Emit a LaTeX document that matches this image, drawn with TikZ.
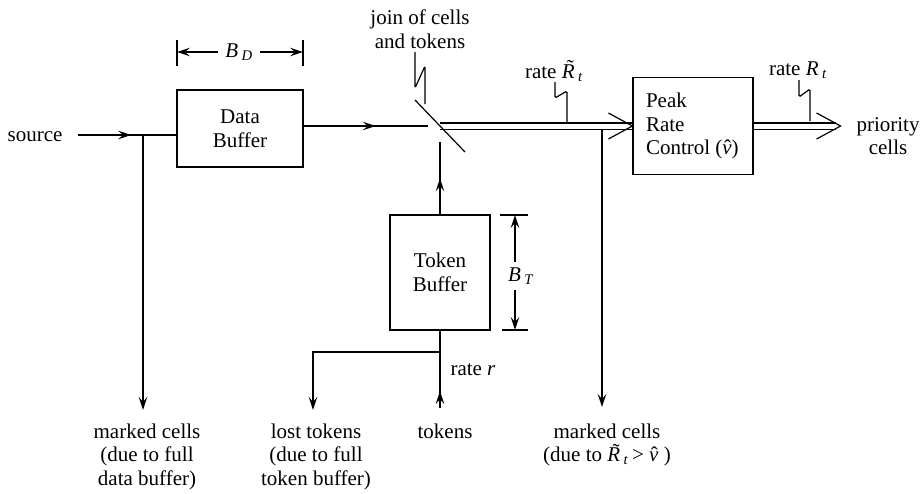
\documentclass[tikz,border=0pt]{standalone}
\usepackage{fontspec}
\setmainfont{Liberation Serif}
\usetikzlibrary{arrows.meta,decorations.markings}

% italic R with tilde and italic v with hat, built from spacing accents
\newcommand\Rtil{\ooalign{\textit{R}\cr\hidewidth\kern0.22em\raisebox{0.16em}{\char"02DC}\hidewidth\cr}}
\newcommand\vhat{\ooalign{\textit{v}\cr\hidewidth\kern0.06em\char"02C6\hidewidth\cr}}

\tikzset{
  box/.style={draw, rectangle, inner sep=0pt, align=center},
  lbl/.style={inner sep=0pt, align=center},
  dbl/.style={double, double distance=5pt, line width=1.3pt},
  midarrow/.style={postaction={decorate},
    decoration={markings, mark=at position #1 with {\arrow{>}}}},
  leader/.style={line width=1.2pt, rounded corners=1.5pt},
}

\begin{document}
\begin{tikzpicture}[x=1pt, y=-1pt, line width=1.2pt,
  font=\fontsize{21}{23.5}\selectfont,
  >={Stealth[length=13pt,width=8.5pt,inset=5pt]}]
\useasboundingbox (0,0) rectangle (924,493);

% --- blocks ---
\node[box, minimum width=126pt, minimum height=77pt] (data) at (240,128.5) {Data\\Buffer};
\node[box, minimum width=100pt, minimum height=115pt] (tok) at (440,272.5) {Token\\Buffer};
\node[box, minimum width=120pt, minimum height=97pt] (peak) at (693,126) {};
\node[lbl, anchor=west, align=left] (peaktxt) at ([xshift=13pt]peak.west) {Peak\\Rate\\Control (\vhat)};

% --- text labels ---
\node[lbl] (src) at (35,137) {source};
\node[lbl] (jointxt) at (420,29) {join of cells\\and tokens};
\node[lbl] (rateRt) at (554,73) {rate \Rtil\,\textsubscript{\textit{t}}};
\node[lbl] (rateR) at (798,70) {rate \textit{R}\,\textsubscript{\textit{t}}};
\node[lbl] (prio) at (888,136) {priority\\cells};
\node[lbl] (rater) at (473,370) {rate \textit{r}};
\node[lbl, anchor=north] (mc1) at (147,423) {marked cells\\(due to full\\data buffer)};
\node[lbl, anchor=north] (lost) at (316,423) {lost tokens\\(due to full\\token buffer)};
\node[lbl, anchor=north] (tokens) at (445,423) {tokens};
\node[lbl, anchor=north] (mc2) at (607,423) {marked cells\\(due to \Rtil\,\textsubscript{\textit{t}}\,> \vhat\ )};

% --- junction points ---
\coordinate (srcout) at (78,135);
\coordinate (jsrc) at (143,135);
\coordinate (join) at (440,126);
\coordinate (s1) at (415,100);
\coordinate (s2) at (465,152);
\coordinate (jr) at (602,129.5);
\coordinate (tj) at (440,352);
\coordinate (lj) at (313,352);

% --- cell path ---
\draw[midarrow=0.54] (srcout) -- (data.west |- srcout);
\draw[->, shorten >=13pt] (jsrc) -- (jsrc |- mc1.north);
\draw[midarrow=0.58] (data.east |- join) -- ([xshift=-12pt]join);
\draw[dbl] (join) -- (peak.west |- join);
\draw (peak.west) ++(-24,-13) -- (peak.west) -- ++(-24,13);
\draw[->, shorten >=16pt] (jr) -- (jr |- mc2.north);
\draw[dbl] (peak.east) -- ([xshift=82pt]peak.east);
\coordinate (outtip) at ([xshift=87pt]peak.east);
\draw (outtip) ++(-24,-13) -- (outtip) -- ++(-24,13);

% join of cells and tokens
\draw (s1) -- (s2);

% --- token path ---
\draw[midarrow=0.5] (tok.north) -- ([yshift=-16pt]join);
\draw (tok.south) -- (tj);
\draw[->, shorten >=13pt] (tj) -- (lj) -- (lj |- lost.north);
\draw[midarrow=0.45, shorten <=15pt] (tj |- tokens.north) -- (tj);

% --- leaders ---
\coordinate (ldJ) at (425,104);
\draw[leader] (ldJ) -- ++(0,-38) -- ++(-10,22) -- ++(0,-36);
\coordinate (ldRt) at (567,122);
\draw[leader] (ldRt) -- ++(0,-31) -- ++(-12,7) -- ++(0,-16);
\coordinate (ldR) at (810,121);
\draw[leader] (ldR) -- ++(0,-32) -- ++(-11,8) -- ++(0,-17);

% --- buffer size B_D ---
\node[lbl, inner xsep=7pt] (bd) at (239,52) {\textit{B}\,\textsubscript{\textit{D}}};
\coordinate (bdL) at (177,52);
\coordinate (bdR) at (303,52);
\draw ([yshift=12pt]bdL) -- ([yshift=-14pt]bdL);
\draw ([yshift=12pt]bdR) -- ([yshift=-14pt]bdR);
\draw[->] (bd.west) -- (bdL);
\draw[->] (bd.east) -- (bdR);

% --- buffer size B_T ---
\node[lbl, inner ysep=5pt] (bt) at (521,276) {\textit{B}\,\textsubscript{\textit{T}}};
\coordinate (btT) at (515,215);
\coordinate (btB) at (515,330);
\draw ([xshift=-15pt]btT) -- ([xshift=13pt]btT);
\draw ([xshift=-13pt]btB) -- ([xshift=13pt]btB);
\draw[->] (bt.north -| btT) -- (btT);
\draw[->] (bt.south -| btB) -- (btB);
\end{tikzpicture}
\end{document}
